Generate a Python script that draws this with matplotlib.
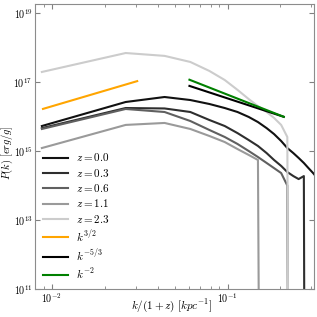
import numpy as np
import matplotlib
matplotlib.use("Agg")
import matplotlib.pyplot as plt
from matplotlib.ticker import FixedLocator, FuncFormatter, NullLocator, LogLocator

plt.rcParams['mathtext.fontset'] = 'cm'
plt.rcParams['font.family'] = 'serif'
plt.rcParams['font.serif'] = ['DejaVu Serif']

# k/(1+z) bin centres [kpc^-1]
k = [0.00877, 0.0263, 0.0438, 0.0614, 0.0789, 0.0964, 0.114, 0.132, 0.149,
     0.167, 0.184, 0.202, 0.219, 0.237, 0.254, 0.272, 0.289, 0.307, 0.324]

# power spectra per redshift; last value ~0 gives the drop at the Nyquist bin
p_z00 = [5.3e15, 2.63e16, 3.67e16, 3.0e16, 2.3e16, 1.76e16, 1.35e16, 9.7e15,
         6.9e15, 4.6e15, 3.1e15, 1.95e15, 1.22e15, 8.7e14, 6.3e14, 4.5e14,
         3.2e14, 2.3e14, 1.65e14]
p_z03 = [4.6e15, 1.76e16, 1.71e16, 1.35e16, 7.9e15, 5.3e15, 3.3e15, 2.08e15,
         1.4e15, 8.7e14, 5.5e14, 3.7e14, 2.46e14, 1.88e14, 1.54e14, 1.88e14,
         1e-30]
p_z06 = [4.35e15, 1.65e16, 1.35e16, 7.4e15, 4.06e15, 2.55e15, 1.6e15, 1.0e15,
         6.7e14, 4.5e14, 3.2e14, 2.3e14, 1.0e14, 1e-30]
p_z11 = [1.22e15, 5.7e15, 6.5e15, 4.35e15, 2.72e15, 1.82e15, 1.14e15, 7.7e14,
         5.5e14, 1e-30]
p_z23 = [1.95e17, 6.9e17, 5.7e17, 3.8e17, 2.08e17, 1.14e17, 5.9e16, 3.2e16,
         2.0e16, 1.35e16, 9.1e15, 5.7e15, 2.55e15, 1e-30]

redshifts = ['0.0', '0.3', '0.6', '1.1', '2.3']
spectra = [p_z00, p_z03, p_z06, p_z11, p_z23]
greys = ['#111111', '#2e2e2e', '#606060', '#9a9a9a', '#cccccc']

# reference slopes: k range and normalisation
k_32 = [0.0089, 0.0306]
k_turb = [0.0607, 0.209]
p_32_start = 1.66e16
p_turb_end = 9.8e15

fig = plt.figure(figsize=(3.17, 3.17), dpi=100)
ax = fig.add_axes([0.110, 0.088, 0.880, 0.899])

for z, p, c in zip(redshifts, spectra, greys):
    ax.plot(k[:len(p)], p, color=c, lw=1.5, label=r'$z = %s$' % z)

k32 = np.array(k_32)
ax.plot(k32, p_32_start * (k32 / k32[0]) ** 1.5, color='orange', lw=1.5,
        label=r'$k^{3/2}$')
kt = np.array(k_turb)
ax.plot(kt, p_turb_end * (kt / kt[-1]) ** (-5.0 / 3.0), color='black', lw=1.5,
        label=r'$k^{-5/3}$')
ax.plot(kt, p_turb_end * (kt / kt[-1]) ** (-2.0), color='green', lw=1.5,
        label=r'$k^{-2}$')

ax.set_xscale('log')
ax.set_yscale('log')
ax.set_xlim(0.0080, 0.31)
ax.set_ylim(1e11, 1.8e19)

ax.yaxis.set_major_locator(FixedLocator([1e11, 1e13, 1e15, 1e17, 1e19]))
ax.yaxis.set_minor_locator(NullLocator())
ax.xaxis.set_major_locator(FixedLocator([1e-2, 1e-1]))
ax.xaxis.set_minor_locator(LogLocator(subs=np.arange(2, 10)))
fmt = FuncFormatter(lambda v, pos: r'$10^{%d}$' % round(np.log10(v)))
ax.xaxis.set_major_formatter(fmt)
ax.yaxis.set_major_formatter(fmt)

ax.tick_params(which='both', direction='in', top=True, right=True,
               color='0.5', labelsize=7.2, pad=1.5)
ax.tick_params(which='major', length=3.5)
ax.tick_params(which='minor', length=2)
for s in ax.spines.values():
    s.set_color('0.55')

ax.set_xlabel(r'$k/(1+z)\ [kpc^{-1}]$', fontsize=8, va='center')
ax.set_ylabel(r'$P(k)\ [erg/g]$', fontsize=7.5, va='center')
ax.xaxis.set_label_coords(0.49, -0.057)
ax.yaxis.set_label_coords(-0.098, 0.48)

ax.legend(loc='lower left', frameon=False, fontsize=8, handlelength=2.3,
          handletextpad=0.7, labelspacing=0.3, borderaxespad=0.3)

fig.savefig('out.png', dpi=100)
